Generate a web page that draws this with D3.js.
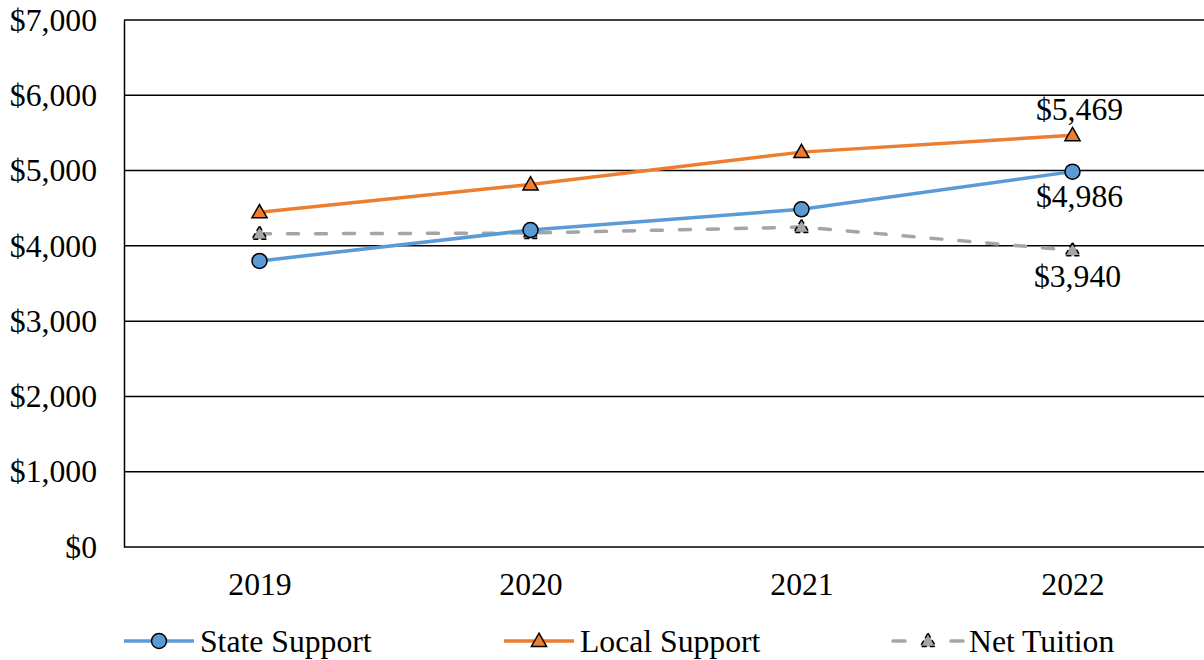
<!DOCTYPE html>
<html>
<head>
<meta charset="utf-8">
<script src="https://cdn.jsdelivr.net/npm/d3@7"></script>
</head>
<body style="margin:0">
<script>
const years = ["2019", "2020", "2021", "2022"];
const stateSupport = [3800, 4210, 4485, 4986];
const localSupport = [4445, 4815, 5245, 5469];
const netTuition = [4160, 4170, 4250, 3940];
const yTicks = [0, 1000, 2000, 3000, 4000, 5000, 6000, 7000];

const width = 1204, height = 660;
const margin = { top: 20, right: -4, bottom: 113, left: 124 };
const fontSize = 31.7;
const serif = 'Liberation Serif';

const svg = d3.select('body').append('svg')
    .attr('width', width)
    .attr('height', height);

const x = d3.scalePoint()
    .domain(years)
    .range([margin.left, width - margin.right])
    .padding(0.5);

const y = d3.scaleLinear()
    .domain([0, 7000])
    .range([height - margin.bottom, margin.top]);

const fmt = d => '$' + d3.format(',')(d);

// gridlines
svg.append('g')
    .selectAll('line')
    .data(yTicks)
    .join('line')
    .attr('x1', margin.left)
    .attr('x2', width - margin.right)
    .attr('y1', d => y(d))
    .attr('y2', d => y(d))
    .style('stroke', '#000')
    .style('stroke-width', 1.5);

// y axis
const yAxis = svg.append('g')
    .attr('transform', `translate(${margin.left},0)`)
    .call(d3.axisLeft(y).tickValues(yTicks).tickFormat(fmt).tickSize(0).tickPadding(27));
yAxis.select('.domain').style('stroke', '#000').style('stroke-width', 1.5);

// x axis
const xAxis = svg.append('g')
    .attr('transform', `translate(0,${y(0)})`)
    .call(d3.axisBottom(x).tickSize(0).tickPadding(25.5));
xAxis.select('.domain').remove();

const series = [
    { name: 'State Support', values: stateSupport, color: '#5B9BD5', marker: 'circle', dash: null },
    { name: 'Local Support', values: localSupport, color: '#ED7D31', marker: 'triangle', dash: null },
    { name: 'Net Tuition', values: netTuition, color: '#A5A5A5', marker: 'triangle', dash: '11 17' }
];

const line = d3.line()
    .x((d, i) => x(years[i]))
    .y(d => y(d));

const tri = d3.symbol().type(d3.symbolTriangle).size(100);

function drawMarker(g, s) {
    if (s.marker === 'circle') {
        g.append('circle').attr('r', 7.5)
            .style('fill', s.color).style('stroke', '#000').style('stroke-width', 1.5);
    } else {
        g.append('path').attr('d', tri).attr('transform', 'translate(0,1)')
            .style('fill', s.color).style('stroke', '#000').style('stroke-width', 1.5)
            .style('stroke-dasharray', s.dash ? '5 3' : null);
    }
}

// draw net tuition first so it sits under others
[series[2], series[0], series[1]].forEach(s => {
    svg.append('path')
        .datum(s.values)
        .attr('d', line)
        .style('fill', 'none')
        .style('stroke', s.color)
        .style('stroke-width', 3.5)
        .style('stroke-linecap', s.dash ? 'round' : 'butt')
        .style('stroke-dasharray', s.dash);

    s.values.forEach((v, i) => {
        const g = svg.append('g').attr('transform', `translate(${x(years[i])},${y(v)})`);
        drawMarker(g, s);
    });
});

function label(xp, yp, txt) {
    svg.append('text').attr('x', xp).attr('y', yp)
        .attr('text-anchor', 'middle').attr('dy', '0.35em')
        .text(txt);
}

// data labels for 2022
const lastX = x(years[3]) + 7;
label(lastX, y(localSupport[3]) - 26, fmt(localSupport[3]));
label(lastX, y(stateSupport[3]) + 24, fmt(stateSupport[3]));
label(lastX - 2, y(netTuition[3]) + 26, fmt(netTuition[3]));

// legend
const legendX = [124, 504, 893];
const legendY = 641;
series.forEach((s, i) => {
    const lg = svg.append('g').attr('transform', `translate(${legendX[i]},${legendY})`);
    lg.append('line').attr('x1', 0).attr('x2', 70).attr('y1', 0).attr('y2', 0)
        .style('stroke', s.color).style('stroke-width', 3.5)
        .style('stroke-linecap', s.dash ? 'round' : 'butt')
        .style('stroke-dasharray', s.dash ? '12 46' : null);
    const m = lg.append('g').attr('transform', 'translate(35,0)');
    drawMarker(m, s);
    lg.append('text').attr('x', 76).attr('y', 0)
        .attr('dy', '0.35em')
        .text(s.name);
});

// set font on every text directly
svg.selectAll('text')
    .attr('font-family', serif)
    .attr('font-size', fontSize)
    .attr('fill', '#000');
</script>
</body>
</html>
